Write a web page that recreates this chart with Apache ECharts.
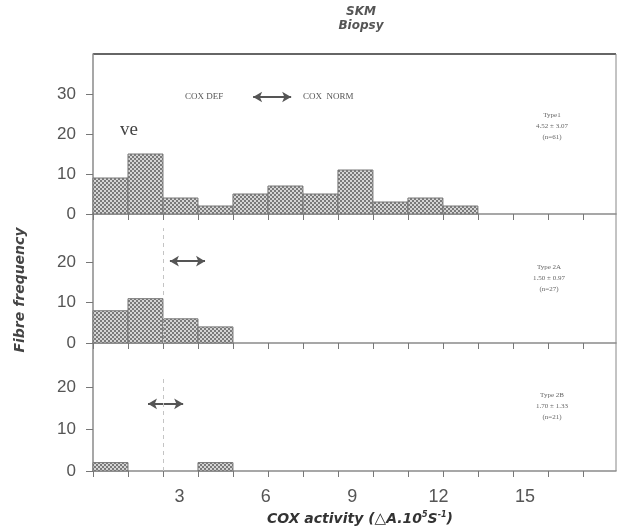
<!DOCTYPE html>
<html><head><meta charset="utf-8">
<script src="https://cdn.jsdelivr.net/npm/echarts@6/dist/echarts.min.js"></script>
<style>html,body{margin:0;padding:0;background:#fff}#c{width:617px;height:528px}</style>
</head><body><div id="c"></div>
<script>
// ---- data ----
const binWidth = 1.215;               // COX activity units per histogram bin
const numBins = 15;
const type1Counts  = [9, 15, 4, 2, 5, 7, 5, 11, 3, 4, 2];
const type2ACounts = [8, 11, 6, 4];
const type2BCounts = [2, 0, 0, 2];
const xTickLabels  = [3, 6, 9, 12, 15];
const yTicksTop    = [0, 10, 20, 30];
const yTicksLower  = [0, 10, 20];
const panelLabels = [
  ['Type1', '4.52 ± 3.07', '(n=61)'],
  ['Type 2A', '1.50 ± 0.97', '(n=27)'],
  ['Type 2B', '1.70 ± 1.33', '(n=21)']
];

const binEdges = [];
for (let i = 0; i <= numBins; i++) binEdges.push(+(i * binWidth).toFixed(4));
const toBins = counts => counts.map((c, i) => [binEdges[i], binEdges[i + 1], c]);

// checkered fill pattern
const pc = document.createElement('canvas');
pc.width = 4; pc.height = 4;
const pctx = pc.getContext('2d');
pctx.fillStyle = '#d6d6d6'; pctx.fillRect(0, 0, 4, 4);
pctx.fillStyle = '#7a7a7a'; pctx.fillRect(0, 0, 2, 2); pctx.fillRect(2, 2, 2, 2);
const pattern = { image: pc, repeat: 'repeat' };

function renderBar(params, api) {
  const v = api.value(2);
  if (!v) return null;
  const p0 = api.coord([api.value(0), v]);
  const p1 = api.coord([api.value(1), 0]);
  return {
    type: 'rect',
    shape: { x: p0[0], y: p0[1], width: p1[0] - p0[0], height: p1[1] - p0[1] },
    style: { fill: pattern, stroke: '#777', lineWidth: 1 }
  };
}

const L = 93, R = 1, xMax = 18.16;
const grids = [
  { left: L, right: R, top: 54, height: 160 },
  { left: L, right: R, top: 214, height: 129 },
  { left: L, right: R, top: 343, height: 128 }
];
const yMaxes = [40, 32, 30.5];
const axisFont = 'Liberation Sans, Arial, sans-serif';

const xAxes = grids.map((g, i) => ({
  type: 'value', gridIndex: i, min: 0, max: xMax,
  axisLine: { show: true, lineStyle: { color: '#8a8a8a', width: 1.5 } },
  axisTick: { show: true, length: 6, customValues: binEdges.slice(0, numBins), lineStyle: { color: '#777' } },
  axisLabel: i === 2 ? { show: true, customValues: xTickLabels, color: '#555', fontSize: 18, fontFamily: axisFont, margin: 17 } : { show: false },
  splitLine: { show: false }
}));
const yAxes = grids.map((g, i) => ({
  type: 'value', gridIndex: i, min: 0, max: yMaxes[i],
  axisLine: { show: true, lineStyle: { color: '#8a8a8a', width: 1.5 } },
  axisTick: { show: true, length: 7, customValues: i === 0 ? yTicksTop : yTicksLower, lineStyle: { color: '#777' } },
  axisLabel: { customValues: i === 0 ? yTicksTop : yTicksLower, color: '#555', fontSize: 17, fontFamily: axisFont, margin: 17 },
  splitLine: { show: false }
}));

const arrowStyle = { color: '#555', width: 2, type: 'solid' };
function arrow(x0, x1, y) {
  return { silent: true, symbol: ['arrow', 'arrow'], symbolSize: [8, 9], label: { show: false },
    lineStyle: arrowStyle, data: [[{ coord: [x0, y] }, { coord: [x1, y] }]] };
}
function dashed(yTop) {
  return { silent: true, symbol: 'none', label: { show: false },
    lineStyle: { color: '#c4c4c4', width: 1, type: [4, 4] },
    data: [[{ coord: [binEdges[2], 0] }, { coord: [binEdges[2], yTop] }]] };
}

const series = [
  { type: 'custom', xAxisIndex: 0, yAxisIndex: 0, data: toBins(type1Counts), renderItem: renderBar,
    markLine: arrow(5.56, 6.88, 29.25) },
  { type: 'custom', xAxisIndex: 1, yAxisIndex: 1, data: toBins(type2ACounts), renderItem: renderBar, z: 3 },
  { type: 'custom', xAxisIndex: 1, yAxisIndex: 1, data: [], renderItem: renderBar, markLine: arrow(2.67, 3.89, 20.3) },
  { type: 'custom', xAxisIndex: 1, yAxisIndex: 1, data: [], renderItem: renderBar, markLine: dashed(28.5) },
  { type: 'custom', xAxisIndex: 2, yAxisIndex: 2, data: toBins(type2BCounts), renderItem: renderBar },
  { type: 'custom', xAxisIndex: 2, yAxisIndex: 2, data: [], renderItem: renderBar, markLine: arrow(1.91, 3.13, 16) },
  { type: 'custom', xAxisIndex: 2, yAxisIndex: 2, data: [], renderItem: renderBar, markLine: dashed(22) }
];

const serif = 'Liberation Serif, Times New Roman, serif';
const smallText = (x, y, lines) => ({
  type: 'text', x: x, y: y, silent: true,
  style: { text: lines.join('\n'), font: '7px ' + serif, fill: '#666', textAlign: 'center', textVerticalAlign: 'top', lineHeight: 11 }
});

const graphic = [
  { type: 'line', silent: true, shape: { x1: L, y1: 54, x2: 616, y2: 54 }, style: { stroke: '#666', lineWidth: 2 } },
  { type: 'line', silent: true, shape: { x1: 616, y1: 54, x2: 616, y2: 471 }, style: { stroke: '#888', lineWidth: 1 } },
  { type: 'text', x: 361, y: 5, silent: true, style: { text: 'SKM\nBiopsy', font: 'italic bold 12px DejaVu Sans', fill: '#555', textAlign: 'center', lineHeight: 14 } },
  { type: 'text', x: 120, y: 121, silent: true, style: { text: 've', font: '19px ' + serif, fill: '#444' } },
  { type: 'text', x: 185, y: 92, silent: true, style: { text: 'COX DEF', font: '9px ' + serif, fill: '#555' } },
  { type: 'text', x: 303, y: 92, silent: true, style: { text: 'COX  NORM', font: '9px ' + serif, fill: '#555' } },
  smallText(552, 110, panelLabels[0]),
  smallText(549, 262, panelLabels[1]),
  smallText(552, 390, panelLabels[2]),
  { type: 'text', x: 20, y: 290, rotation: Math.PI / 2, silent: true,
    style: { text: 'Fibre frequency', font: 'italic bold 14px DejaVu Sans', fill: '#444', textAlign: 'center', textVerticalAlign: 'middle' } },
  { type: 'text', x: 360, y: 519, silent: true,
    style: {
      text: '{a|COX activity (}{b|△}{a|A.10}{s|5}{a|S}{s|-1}{a|)}',
      textAlign: 'center', textVerticalAlign: 'middle',
      rich: {
        a: { font: 'italic bold 14px DejaVu Sans', fill: '#333' },
        b: { font: '15px DejaVu Sans', fill: '#333' },
        s: { font: 'italic bold 8px DejaVu Sans', fill: '#333', verticalAlign: 'top', padding: [0, 0, 8, 0] }
      }
    } }
];

const chart = echarts.init(document.getElementById('c'), null, { renderer: 'canvas' });
chart.setOption({
  animation: false,
  backgroundColor: '#fff',
  grid: grids,
  xAxis: xAxes,
  yAxis: yAxes,
  series: series,
  graphic: graphic
});
</script></body></html>
